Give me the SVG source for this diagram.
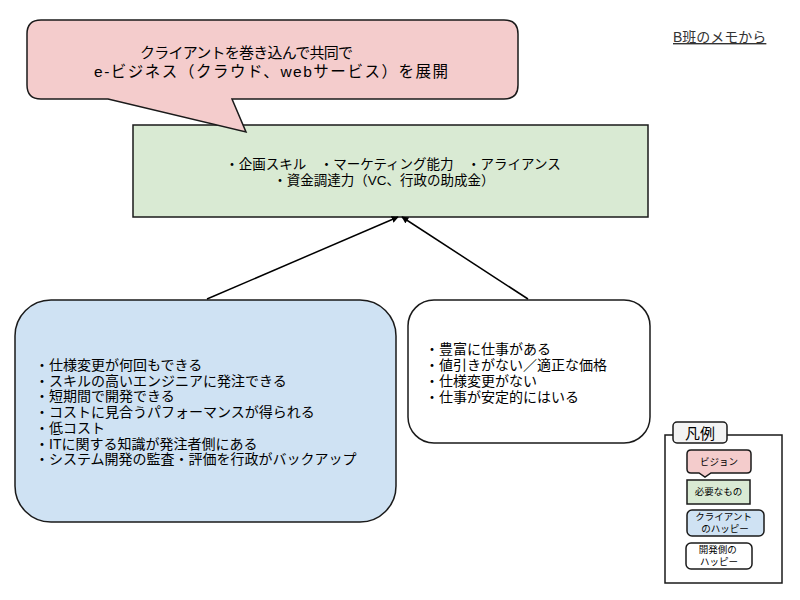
<svg xmlns="http://www.w3.org/2000/svg" width="800" height="600" viewBox="0 0 800 600">
<style>
text{font-family:"Liberation Sans","Noto Sans CJK JP",sans-serif;fill:#000}
.bd{stroke:#1a1a1a;stroke-width:1.5}
.pink{fill:#f4cccc}
.green{fill:#d9ead3}
.blue{fill:#cfe2f3}
.white{fill:#fff}
.c{text-anchor:middle}
.m{font-size:14px}
.s{font-size:9.5px}
.conn{stroke:#000;stroke-width:1.5;fill:none}
</style>
<defs>
<marker id="ah" viewBox="0 0 10 10" refX="9" refY="5" markerWidth="7" markerHeight="7" orient="auto" markerUnits="userSpaceOnUse">
<path d="M0,0 L10,5 L0,10 z" fill="#000"/>
</marker>
</defs>
<rect width="800" height="600" fill="#fff"/>

<g id="needs">
<rect x="133" y="125" width="515" height="92" class="green bd"/>
<text x="393" y="169" class="c" font-size="13.5" xml:space="preserve">・企画スキル　・マーケティング能力　・アライアンス</text>
<text x="384" y="185" class="c" font-size="13.5">・資金調達力（VC、行政の助成金）</text>
</g>

<g id="vision">
<path d="M41,20 H504 Q518,20 518,34 V85 Q518,99 504,99 H232 L246,132 L108,99 H41 Q27,99 27,85 V34 Q27,20 41,20 Z" class="pink bd"/>
<text x="140" y="58" font-size="15" textLength="213">クライアントを巻き込んで共同で</text>
<text x="94" y="77" font-size="15.5" textLength="354">e-ビジネス（クラウド、webサービス）を展開</text>
</g>

<g id="memo">
<text x="673" y="42" font-size="14" style="fill:#333" text-decoration="underline">B班のメモから</text>
</g>

<g id="client-happy">
<rect x="15" y="300" width="381" height="222" rx="36" ry="36" class="blue bd"/>
<text class="m">
<tspan x="35" y="370">・仕様変更が何回もできる</tspan>
<tspan x="35" y="385.7">・スキルの高いエンジニアに発注できる</tspan>
<tspan x="35" y="401.4">・短期間で開発できる</tspan>
<tspan x="35" y="417.1">・コストに見合うパフォーマンスが得られる</tspan>
<tspan x="35" y="432.8">・低コスト</tspan>
<tspan x="35" y="448.5">・ITに関する知識が発注者側にある</tspan>
<tspan x="35" y="464.2">・システム開発の監査・評価を行政がバックアップ</tspan>
</text>
</g>

<g id="dev-happy">
<rect x="408" y="300" width="242" height="143" rx="26" ry="26" class="white bd"/>
<text class="m">
<tspan x="425" y="354">・豊富に仕事がある</tspan>
<tspan x="425" y="370">・値引きがない／適正な価格</tspan>
<tspan x="425" y="386">・仕様変更がない</tspan>
<tspan x="425" y="402">・仕事が安定的にはいる</tspan>
</text>
</g>

<g id="connectors">
<line x1="207" y1="299" x2="398" y2="217" class="conn" marker-end="url(#ah)"/>
<line x1="528" y1="299" x2="402" y2="217" class="conn" marker-end="url(#ah)"/>
</g>

<g id="legend">
<rect x="665" y="435" width="117" height="148" class="white bd"/>
<rect x="673" y="422" width="54" height="21" rx="4" ry="4" fill="#f3f3f3" class="bd"/>
<text x="700" y="438.5" class="c" font-size="15">凡例</text>
</g>

<g id="legend-vision">
<path d="M691,450 H747 Q751,450 751,454 V469 Q751,473 747,473 H711 L705,477 L699,473 H691 Q687,473 687,469 V454 Q687,450 691,450 Z" class="pink bd"/>
<text x="719" y="465" class="c s">ビジョン</text>
</g>

<g id="legend-needs">
<rect x="687" y="480" width="63" height="24" class="green bd"/>
<text x="718.5" y="495" class="c s">必要なもの</text>
</g>

<g id="legend-client">
<rect x="687" y="510" width="77" height="26" rx="5" ry="5" class="blue bd"/>
<text class="c s">
<tspan x="725" y="520">クライアント</tspan>
<tspan x="725" y="532">のハッピー</tspan>
</text>
</g>

<g id="legend-dev">
<rect x="686" y="543" width="66" height="26" rx="5" ry="5" class="white bd"/>
<text class="c s">
<tspan x="719" y="553">開発側の</tspan>
<tspan x="719" y="565">ハッピー</tspan>
</text>
</g>
</svg>
